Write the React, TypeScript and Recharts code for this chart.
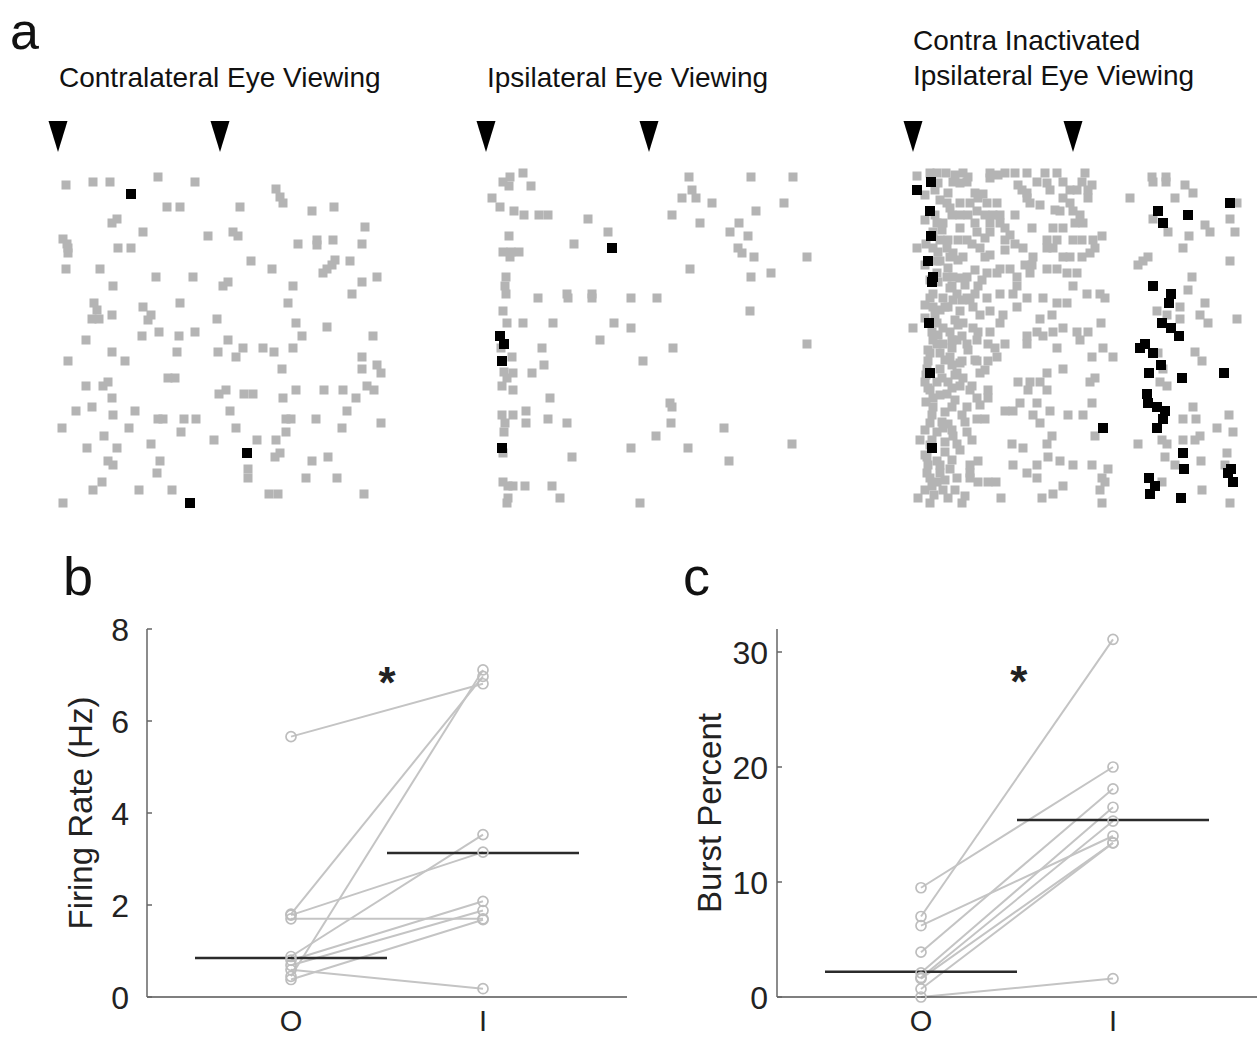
import React from "react";
import {
  ScatterChart,
  Scatter,
  XAxis,
  YAxis,
  LineChart,
  Line,
  ReferenceLine,
  ReferenceDot,
} from "recharts";

const FONT = '"Liberation Sans", Arial, Helvetica, sans-serif';

// ---- panel a: rasters, each spike is [time, trial] ----
const contraSpikes: number[][] = [
  [26,25],[53,22],[70,22],[118,17],[155,22],[236,29],[240,37],[243,43],[127,47],[140,47],[200,47],[272,51],[294,47],
  [77,59],[72,63],[103,72],[168,76],[193,72],[198,76],[325,67],[23,79],[27,84],[28,88],[28,93],[78,88],[91,88],
  [258,84],[277,80],[277,85],[293,80],[322,84],[211,101],[232,109],[295,100],[292,105],[287,109],[283,113],[310,101],
  [26,109],[60,109],[116,117],[153,117],[188,122],[183,126],[322,122],[337,117],[73,126],[253,126],[312,134],
  [54,143],[140,143],[248,143],[57,150],[52,159],[59,159],[72,155],[103,147],[111,155],[108,160],[177,159],
  [256,163],[287,167],[46,180],[102,176],[119,172],[139,176],[155,172],[188,180],[262,176],[333,176],
  [72,192],[137,192],[178,192],[196,197],[203,188],[223,188],[234,192],[253,188],[28,201],[85,201],[322,197],
  [242,209],[322,209],[337,205],[341,213],[128,218],[135,218],[46,226],[63,226],[68,222],[179,234],[186,230],
  [204,234],[213,234],[256,230],[284,230],[303,230],[327,226],[334,230],[72,238],[243,238],[316,238],
  [36,251],[52,247],[95,251],[190,251],[307,251],[73,255],[118,259],[123,259],[144,259],[156,259],[246,259],
  [251,259],[276,259],[22,268],[89,268],[196,268],[341,263],[302,268],[141,272],[246,272],[64,276],[174,280],
  [217,280],[236,280],[111,284],[47,288],[77,288],[240,293],[235,297],[288,297],[272,301],[68,301],[73,305],
  [120,301],[117,313],[208,309],[208,318],[266,318],[297,318],[62,322],[53,330],[99,330],[132,330],[229,334],
  [238,334],[324,334],[23,343],
];
const contraBursts: number[][] = [[91,34],[207,293],[150,343]];
const contraMarks = [18, 180];

const ipsiSpikes: number[][] = [
  [40,17],[33,22],[39,26],[53,13],[61,26],[219,17],[281,17],[323,17],[22,38],[30,47],[44,51],[54,55],[69,55],
  [78,55],[222,30],[212,38],[226,38],[242,43],[314,43],[286,51],[202,55],[118,59],[230,63],[269,63],[260,72],
  [278,76],[138,72],[39,76],[104,84],[33,92],[40,97],[41,92],[49,92],[268,88],[272,93],[284,97],[337,97],
  [220,109],[281,117],[301,113],[36,117],[35,126],[36,134],[68,138],[97,134],[98,138],[122,134],[122,138],
  [161,138],[187,138],[33,151],[280,151],[37,163],[53,163],[83,163],[144,163],[161,168],[130,180],[72,188],
  [203,188],[337,184],[31,188],[42,197],[173,201],[74,205],[34,212],[43,213],[62,213],[37,218],[32,226],
  [43,230],[80,238],[200,243],[202,247],[32,255],[43,255],[56,251],[56,263],[78,259],[97,263],[35,263],
  [34,272],[201,263],[254,268],[186,276],[161,288],[218,288],[322,284],[102,297],[259,301],[33,293],[33,322],
  [38,326],[43,326],[55,326],[82,326],[90,338],[38,338],[37,343],[170,343],
];
const ipsiBursts: number[][] = [[142,88],[30,176],[34,184],[32,201],[32,288]];
const ipsiMarks = [16, 179];

const inactSpikes: number[][] = [
  [27,16],[40,13],[47,13],[56,13],[65,15],[73,13],[78,17],[100,13],[108,15],[115,13],[125,13],[137,13],[155,13],
  [167,13],[195,13],[48,23],[63,22],[70,23],[77,22],[100,18],[128,25],[147,22],[157,23],[173,22],[192,22],
  [202,25],[262,17],[263,22],[276,17],[276,22],[295,25],[45,30],[58,33],[85,33],[93,34],[132,30],[137,33],
  [160,30],[187,30],[198,30],[303,33],[285,38],[240,38],[57,43],[70,43],[80,43],[88,38],[97,43],[107,43],
  [137,38],[140,43],[173,38],[180,43],[198,38],[45,55],[62,55],[70,55],[78,55],[87,51],[95,55],[103,55],
  [110,55],[125,55],[170,51],[183,51],[190,55],[347,43],[340,59],[47,63],[53,63],[70,68],[85,63],[100,63],
  [110,63],[115,68],[142,68],[163,68],[173,68],[185,63],[193,63],[263,59],[315,65],[320,72],[345,72],
  [43,72],[50,80],[58,80],[68,80],[77,80],[87,72],[100,72],[115,80],[125,84],[157,80],[167,80],[183,80],
  [192,80],[203,80],[212,76],[278,72],[299,76],[27,88],[43,88],[57,88],[63,93],[82,84],[90,88],[133,88],
  [143,97],[157,88],[163,88],[173,97],[180,97],[192,97],[200,93],[205,88],[293,88],[47,101],[60,97],[73,97],
  [95,97],[110,109],[120,109],[135,105],[142,105],[157,109],[167,109],[177,113],[187,113],[258,97],[253,101],
  [248,105],[340,101],[47,113],[57,117],[63,117],[77,117],[97,113],[107,113],[127,117],[140,113],[48,122],
  [62,126],[88,126],[127,126],[183,126],[302,117],[43,134],[53,138],[67,134],[77,138],[85,134],[97,138],
  [110,134],[123,134],[137,138],[153,138],[167,143],[177,143],[197,134],[210,134],[215,138],[298,130],
  [315,143],[290,147],[43,147],[58,147],[70,151],[83,147],[100,151],[113,155],[127,147],[150,159],[162,155],
  [267,151],[277,155],[290,159],[310,155],[23,168],[47,163],[53,168],[73,163],[83,168],[100,172],[110,163],
  [137,176],[147,172],[153,176],[163,172],[173,168],[187,172],[198,172],[211,163],[318,163],[347,159],
  [43,180],[53,184],[67,180],[77,184],[87,180],[98,184],[115,184],[137,184],[190,180],[167,188],[213,188],
  [305,192],[268,193],[40,193],[50,193],[60,197],[72,201],[87,201],[98,201],[107,197],[202,197],[223,197],
  [312,201],[273,209],[37,209],[50,209],[67,213],[90,213],[157,213],[173,209],[35,222],[47,222],[58,222],
  [73,218],[82,226],[128,222],[140,222],[150,222],[200,222],[205,218],[270,222],[277,226],[40,230],[57,234],
  [70,226],[87,238],[98,230],[98,238],[138,230],[157,230],[130,243],[147,243],[202,243],[303,247],[43,247],
  [62,247],[77,247],[72,255],[87,259],[95,259],[115,251],[123,251],[143,255],[160,251],[178,255],[193,255],
  [293,259],[306,259],[339,255],[40,263],[53,268],[77,272],[150,263],[205,276],[327,268],[343,272],[293,280],
  [30,280],[42,280],[63,276],[67,284],[162,276],[157,284],[122,284],[133,288],[248,284],[272,280],[277,284],
  [305,280],[310,276],[37,297],[47,301],[60,309],[80,305],[88,301],[158,297],[170,301],[183,305],[202,305],
  [218,309],[123,305],[147,305],[275,297],[285,305],[311,301],[337,293],[37,313],[50,313],[67,318],[80,313],
  [88,322],[98,322],[106,322],[137,313],[147,318],[212,318],[215,322],[272,322],[335,305],[42,326],[53,330],
  [173,326],[163,334],[210,330],[312,330],[28,338],[40,343],[72,343],[111,338],[152,338],[212,343],[340,343],
  [40,138],[45,155],[42,172],[47,184],[38,201],[43,238],[42,255],[47,272],[38,305],[47,322],[35,330],[50,101],
  [55,147],[60,172],[62,188],[65,240],[58,264],[55,292],[65,330],[68,100],[75,125],[63,140],[72,176],[70,203],
  [80,230],[62,205],[78,190],[90,155],[88,172],[105,188],
  [35,35],[50,40],[60,48],[35,60],[52,70],[36,84],[48,92],[35,105],[58,108],[40,120],[70,118],[35,145],
  [50,150],[65,160],[35,158],[48,175],[62,180],[38,190],[55,200],[36,215],[52,218],[65,215],[38,228],[50,235],
  [62,228],[36,242],[55,252],[35,270],[52,262],[62,270],[40,285],[55,282],[35,295],[50,305],[62,300],[40,318],
  [55,320],[44,335],[58,338],[75,336],[80,318],[70,290],[82,280],[75,262],[90,245],[85,200],[95,210],[68,165],
  [80,140],[92,120],[100,95],[115,90],[120,75],[150,45],[165,50],[180,30],[60,128],[72,140],[85,110],[95,78],
];
const inactBursts: number[][] = [
  [27,30],[41,22],[40,51],[41,76],[38,101],[43,117],[42,122],[39,163],[40,213],[42,288],[213,268],[340,43],
  [268,51],[298,55],[273,63],[263,126],[281,134],[279,143],[272,163],[281,168],[289,176],[255,184],[250,188],
  [263,193],[271,205],[259,213],[292,218],[334,213],[257,234],[258,243],[267,247],[275,251],[273,259],
  [267,268],[293,293],[294,309],[341,309],[338,313],[343,322],[259,318],[265,326],[260,334],[291,338],
];
const inactMarks = [23, 183];

// ---- panels b, c: paired values ----
const groups = ["O", "I"];
const firingO = [5.66, 1.8, 0.45, 1.78, 1.7, 0.88, 0.8, 0.69, 0.59, 0.38];
const firingI = [6.81, 6.97, 7.11, 3.15, 1.7, 3.53, 2.08, 1.88, 0.18, 1.68];
const firingLevel = [0.85, 3.13];
const firingTicks = [0, 2, 4, 6, 8];

const burstO = [9.5, 7.0, 6.2, 3.9, 2.1, 1.7, 1.6, 0.7, 0.0];
const burstI = [20.0, 31.1, 14.0, 18.1, 16.5, 15.3, 13.4, 13.4, 1.6];
const burstLevel = [2.2, 15.4];
const burstTicks = [0, 10, 20, 30];

const toPoints = (arr: number[][]) => arr.map(([t, trial]) => ({ t, trial }));

const GraySquare = (p: any) => (
  <rect x={p.cx - 4.5} y={p.cy - 4.5} width={9} height={9} fill="#b4b4b4" />
);
const BlackSquare = (p: any) => (
  <rect x={p.cx - 5} y={p.cy - 5} width={10} height={10} fill="#000" />
);
const Arrowhead = (p: any) => (
  <polygon
    points={`${p.cx - 9.5},${p.cy - 15} ${p.cx + 9.5},${p.cy - 15} ${p.cx},${p.cy + 16}`}
    fill="#000"
  />
);

function Raster({ left, spikes, bursts, marks }: any) {
  return (
    <div style={{ position: "absolute", left, top: 110 }}>
      <ScatterChart width={360} height={410} margin={{ top: 0, right: 0, bottom: 0, left: 0 }}>
        <XAxis type="number" dataKey="t" domain={[0, 360]} hide />
        <YAxis type="number" dataKey="trial" domain={[-50, 360]} reversed hide />
        <Scatter data={toPoints(spikes)} shape={GraySquare} isAnimationActive={false} />
        <Scatter data={toPoints(bursts)} shape={BlackSquare} isAnimationActive={false} />
        <Scatter
          data={marks.map((t: number) => ({ t, trial: -24 }))}
          shape={Arrowhead}
          isAnimationActive={false}
        />
      </ScatterChart>
    </div>
  );
}

const AxisTitle = (props: any) => {
  const vb = props.viewBox || { y: 29, height: 368 };
  const cy = vb.y + vb.height / 2;
  return (
    <text
      x={props.at}
      y={cy}
      dy="0.36em"
      transform={`rotate(-90 ${props.at} ${cy})`}
      textAnchor="middle"
      fontSize={33}
      fill="#222"
      fontFamily={FONT}
    >
      {props.text}
    </text>
  );
};

function Paired({ left, width, axisWidth, oVals, iVals, level, yMax, ticks, title, titleAt, gap, star }: any) {
  const data = groups.map((g, gi) => {
    const row: any = { x: gi + 1, group: g };
    (gi === 0 ? oVals : iVals).forEach((v: number, k: number) => (row["u" + k] = v));
    return row;
  });
  return (
    <div style={{ position: "absolute", left, top: 600 }}>
      <LineChart width={width} height={438} data={data} margin={{ top: 29, right: left === 0 ? 13 : 0, bottom: 0, left: 0 }}>
        <XAxis
          type="number"
          dataKey="x"
          domain={[0.25, 2.75]}
          ticks={[1, 2]}
          height={41}
          tickSize={0}
          tickMargin={0}
          tickLine={false}
          axisLine={{ stroke: "#555", strokeWidth: 1.5 }}
          tick={(p: any) => (
            <text x={p.x} y={p.y + 34} textAnchor="middle" fontSize={29} fill="#222" fontFamily={FONT}>
              {groups[p.payload.value - 1]}
            </text>
          )}
        />
        <YAxis
          type="number"
          domain={[0, yMax]}
          ticks={ticks}
          width={axisWidth}
          tickSize={0}
          tickMargin={0}
          tickLine={false}
          axisLine={{ stroke: "#666", strokeWidth: 1.5 }}
          tick={(p: any) => (
            <g>
              <line x1={p.x} x2={p.x + 5} y1={p.y} y2={p.y} stroke="#666" strokeWidth={1.5} />
              <text x={p.x - gap} y={p.y} dy="0.36em" textAnchor="end" fontSize={32} fill="#222" fontFamily={FONT}>
                {p.payload.value}
              </text>
            </g>
          )}
          label={<AxisTitle text={title} at={titleAt} />}
        />
        {oVals.map((_: number, k: number) => (
          <Line
            key={k}
            dataKey={"u" + k}
            stroke="#c4c4c4"
            strokeWidth={2}
            isAnimationActive={false}
            activeDot={false}
            dot={(d: any) => (
              <circle key={d.key ?? `${k}-${d.index}`} cx={d.cx} cy={d.cy} r={5} fill="none" stroke="#bdbdbd" strokeWidth={1.7} />
            )}
          />
        ))}
        <ReferenceLine segment={[{ x: 0.5, y: level[0] }, { x: 1.5, y: level[0] }]} stroke="#2b2b2b" strokeWidth={2.5} />
        <ReferenceLine segment={[{ x: 1.5, y: level[1] }, { x: 2.5, y: level[1] }]} stroke="#2b2b2b" strokeWidth={2.5} />
        <ReferenceDot
          x={star[0]}
          y={star[1]}
          r={0}
          shape={(p: any) => (
            <text x={p.cx} y={p.cy} dy={25} textAnchor="middle" fontSize={44} fontWeight="bold" fill="#222" fontFamily={FONT}>
              *
            </text>
          )}
        />
      </LineChart>
    </div>
  );
}

export default function App() {
  return (
    <div style={{ position: "absolute", left: 0, top: 0, width: 1257, height: 1038, background: "#fff", overflow: "hidden" }}>
      <Raster left={40} spikes={contraSpikes} bursts={contraBursts} marks={contraMarks} />
      <Raster left={470} spikes={ipsiSpikes} bursts={ipsiBursts} marks={ipsiMarks} />
      <Raster left={890} spikes={inactSpikes} bursts={inactBursts} marks={inactMarks} />
      <Paired
        left={0}
        width={640}
        axisWidth={147}
        oVals={firingO}
        iVals={firingI}
        level={firingLevel}
        yMax={8}
        ticks={firingTicks}
        title="Firing Rate (Hz)"
        titleAt={80}
        gap={18}
        star={[1.5, 7.05]}
      />
      <Paired
        left={640}
        width={617}
        axisWidth={137}
        oVals={burstO}
        iVals={burstI}
        level={burstLevel}
        yMax={32}
        ticks={burstTicks}
        title="Burst Percent"
        titleAt={69}
        gap={9}
        star={[1.51, 28.3]}
      />
      <svg
        width={1257}
        height={1038}
        style={{ position: "absolute", left: 0, top: 0, pointerEvents: "none" }}
        fontFamily={FONT}
        fill="#111"
      >
        <text x={10} y={49} fontSize={52}>a</text>
        <text x={63} y={595} fontSize={54}>b</text>
        <text x={683} y={595} fontSize={54}>c</text>
        <text x={59} y={87} fontSize={28}>Contralateral Eye Viewing</text>
        <text x={487} y={87} fontSize={28}>Ipsilateral Eye Viewing</text>
        <text x={913} y={50} fontSize={28}>Contra Inactivated</text>
        <text x={913} y={85} fontSize={28}>Ipsilateral Eye Viewing</text>
      </svg>
    </div>
  );
}
